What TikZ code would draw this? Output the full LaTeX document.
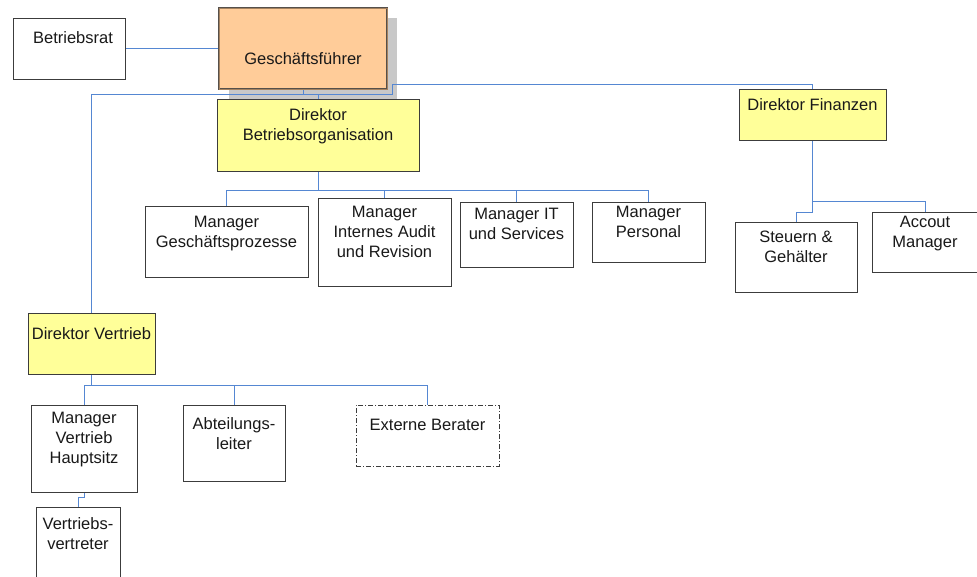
\documentclass[tikz,border=0pt]{standalone}
\usepackage{fontspec}
\setmainfont{Liberation Sans}
\usetikzlibrary{backgrounds}
\definecolor{wire}{RGB}{85,135,210}
\definecolor{edge}{RGB}{60,60,60}
\definecolor{ink}{RGB}{25,25,25}
\definecolor{peach}{RGB}{255,204,153}
\definecolor{peachline}{RGB}{165,130,95}
\definecolor{gfedge}{RGB}{85,80,75}
\definecolor{lemon}{RGB}{255,255,153}
\definecolor{shadowgray}{RGB}{200,200,200}
% strut that fixes the height of the first text line
\newcommand\fl{\rule{0pt}{14pt}}
\begin{document}
\begin{tikzpicture}[x=1pt,y=-1pt,
  box/.style={draw=edge, line width=1pt, fill=white, anchor=north west,
    inner sep=0pt, outer sep=0pt},
  chief/.style={box, fill=peach, draw=gfedge, line width=2.4pt,
    postaction={draw=peachline, line width=0.8pt}},
  director/.style={box, fill=lemon},
  external/.style={box, dash pattern=on 5pt off 2pt on 1pt off 2pt},
  txt/.style={anchor=north, inner sep=0pt, align=center, text=ink,
    font=\fontsize{16.5}{20}\selectfont},
  wire/.style={draw=wire, line width=1pt},
]
\useasboundingbox (0,0) rectangle (977,576);

% boxes
\node[box, minimum width=112pt, minimum height=61pt] (bra) at (13,18) {};
\node[chief, minimum width=168pt, minimum height=81pt] (gf) at (219,8) {};
\node[director, minimum width=202pt, minimum height=72pt] (dbo) at (217,99) {};
\node[director, minimum width=147pt, minimum height=51pt] (df) at (739,89) {};
\node[director, minimum width=127pt, minimum height=61pt] (dv) at (28,313) {};
\node[box, minimum width=163pt, minimum height=71pt] (mgp) at (145,206) {};
\node[box, minimum width=133pt, minimum height=88pt] (mia) at (318,198) {};
\node[box, minimum width=113pt, minimum height=65pt] (mit) at (460,202) {};
\node[box, minimum width=113pt, minimum height=60pt] (mpe) at (592,202) {};
\node[box, minimum width=122pt, minimum height=70pt] (stg) at (735,222) {};
\node[box, minimum width=106pt, minimum height=60pt] (acm) at (872,212) {};
\node[box, minimum width=106pt, minimum height=87pt] (mvh) at (31,405) {};
\node[box, minimum width=102pt, minimum height=76pt] (abt) at (183,405) {};
\node[external, minimum width=143pt, minimum height=61pt] (ext) at (356,405) {};
\node[box, minimum width=84pt, minimum height=80pt] (vv) at (36,507) {};

% labels
\node[txt] (bra-t) at ([xshift=4pt,yshift=-11.5pt]bra.north) {\fl Betriebsrat};
\node[txt] (gf-t) at ([yshift=-42pt]gf.north) {\fl Geschäftsführer};
\node[txt] (dbo-t) at ([yshift=-7pt]dbo.north) {\fl Direktor\\Betriebsorganisation};
\node[txt] (df-t) at ([yshift=-7pt]df.north) {\fl Direktor Finanzen};
\node[txt] (dv-t) at ([yshift=-12pt]dv.north) {\fl Direktor Vertrieb};
\node[txt] (mgp-t) at ([yshift=-7pt]mgp.north) {\fl Manager\\Geschäftsprozesse};
\node[txt] (mia-t) at ([yshift=-5pt]mia.north) {\fl Manager\\Internes Audit\\und Revision};
\node[txt] (mit-t) at ([yshift=-3pt]mit.north) {\fl Manager IT\\und Services};
\node[txt] (mpe-t) at ([yshift=-1pt]mpe.north) {\fl Manager\\Personal};
\node[txt] (stg-t) at ([yshift=-6.5pt]stg.north) {\fl Steuern \&\\Gehälter};
\node[txt] (acm-t) at ([yshift=-1pt]acm.north) {\fl Accout\\Manager};
\node[txt] (mvh-t) at ([yshift=-4.5pt]mvh.north) {\fl Manager\\Vertrieb\\Hauptsitz};
\node[txt] (abt-t) at ([yshift=-10pt]abt.north) {\fl Abteilungs-\\leiter};
\node[txt] (ext-t) at ([yshift=-11pt]ext.north) {\fl Externe Berater};
\node[txt] (vv-t) at ([yshift=-8pt]vv.north) {\fl Vertriebs-\\vertreter};

% bus levels
\coordinate (tb) at (0,94);
\coordinate (jog) at (392,84);
\coordinate (mb) at (0,190);
\coordinate (fb) at (0,201);
\coordinate (fs) at (0,212);
\coordinate (vb) at (0,385);

\begin{scope}[on background layer]
  \fill[shadowgray] ([shift={(10,10)}]gf.north west) rectangle ([shift={(10,10)}]gf.south east);
  \draw[wire] (bra.east) -- (gf.west);
  \draw[wire] (gf.south) -- (gf.south |- tb);
  \draw[wire] (dv.north) |- (jog |- tb) -- (jog) -| (df.north);
  \draw[wire] (dbo.north) -- (dbo.north |- tb);
  \draw[wire] (dbo.south) -- (dbo.south |- mb);
  \draw[wire] (mgp.north) |- (mpe.north |- mb) -- (mpe.north);
  \draw[wire] (mia.north) -- (mia.north |- mb);
  \draw[wire] (mit.north) -- (mit.north |- mb);
  \draw[wire] (df.south) -- (df.south |- fs) -| (stg.north);
  \draw[wire] (df.south |- fb) -| (acm.north);
  \draw[wire] (dv.south) -- (dv.south |- vb);
  \draw[wire] (mvh.north) |- (ext.north |- vb) -- (ext.north);
  \draw[wire] (abt.north) -- (abt.north |- vb);
  \draw[wire] (mvh.south) -- ++(0,5) -| (vv.north);
\end{scope}
\end{tikzpicture}
\end{document}
